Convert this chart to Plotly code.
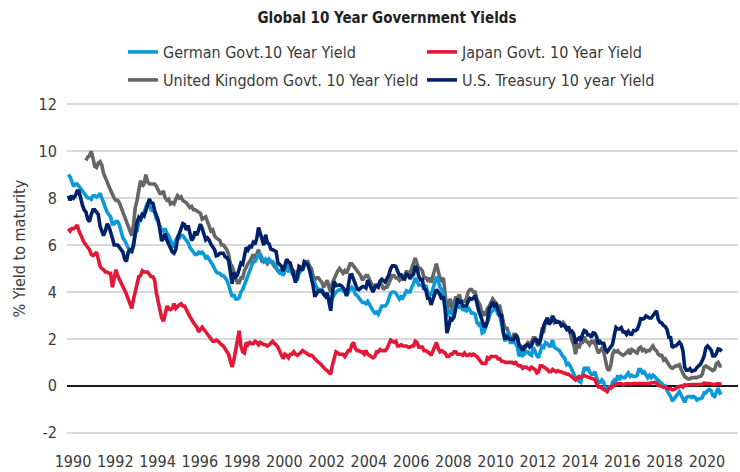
import numpy as np
import plotly.graph_objects as go

# Monthly observations, Jan 1991 .. Dec 2021 (372 months)
# Position of the first observation on the chart's year axis
first_obs_pos = 1989.78

german = [
    9.0, 8.9, 8.7, 8.5, 8.6, 8.6, 8.5, 8.4, 8.3, 8.2, 8.1, 8.0,
    8.0, 7.95, 8.1, 8.1, 8.05, 8.1, 8.2, 8.0, 7.7, 7.5, 7.4, 7.3,
    7.2, 6.9, 6.9, 7.0, 7.0, 6.85, 6.6, 6.3, 6.2, 6.0, 5.9, 5.7,
    5.7, 6.2, 6.5, 6.6, 7.0, 7.05, 7.3, 7.4, 7.6, 7.8, 7.7, 7.5,
    7.45, 7.4, 7.1, 7.0, 6.8, 6.6, 6.6, 6.7, 6.5, 6.4, 6.2, 6.0,
    5.9, 6.2, 6.35, 6.3, 6.4, 6.4, 6.3, 6.2, 6.1, 5.9, 5.8, 5.75,
    5.6, 5.6, 5.7, 5.65, 5.7, 5.6, 5.45, 5.5, 5.4, 5.3, 5.15, 5.0,
    4.85, 4.8, 4.8, 4.7, 4.7, 4.6, 4.5, 4.3, 4.0, 3.8, 3.9, 3.7,
    3.7, 3.75, 4.0, 4.1, 4.3, 4.5, 4.8, 5.0, 5.1, 5.3, 5.3, 5.5,
    5.6, 5.6, 5.4, 5.3, 5.4, 5.3, 5.4, 5.3, 5.3, 5.2, 5.1, 4.9,
    4.8, 4.8, 4.7, 4.9, 5.1, 4.9, 4.95, 4.8, 4.7, 4.6, 4.5, 4.8,
    4.9, 5.0, 5.1, 5.2, 5.15, 5.0, 4.7, 4.5, 4.3, 4.2, 4.1, 4.1,
    4.1, 3.95, 3.85, 3.8, 3.65, 3.6, 3.75, 3.9, 4.0, 4.05, 4.1, 4.1,
    4.05, 4.0, 3.85, 4.0, 4.1, 4.2, 4.1, 3.9, 3.85, 3.75, 3.65, 3.55,
    3.55, 3.5, 3.6, 3.45, 3.3, 3.2, 3.1, 3.15, 3.05, 3.2, 3.4, 3.4,
    3.4, 3.5, 3.7, 3.95, 4.0, 4.0, 3.95, 3.8, 3.7, 3.8, 3.75, 3.9,
    4.05, 4.0, 4.0, 4.2, 4.35, 4.6, 4.4, 4.3, 4.3, 4.3, 4.1, 4.3,
    4.0, 3.95, 3.85, 4.1, 4.4, 4.65, 4.5, 4.2, 4.1, 3.9, 3.5, 2.95,
    3.2, 3.1, 3.05, 3.2, 3.55, 3.45, 3.35, 3.35, 3.25, 3.25, 3.2, 3.35,
    3.25, 3.1, 3.1, 3.05, 2.7, 2.6, 2.7, 2.25, 2.3, 2.5, 2.7, 2.95,
    3.15, 3.2, 3.3, 3.25, 3.05, 3.0, 2.6, 2.2, 1.9, 2.1, 2.3, 1.85,
    1.85, 1.85, 1.8, 1.65, 1.25, 1.55, 1.3, 1.35, 1.45, 1.45, 1.35, 1.3,
    1.65, 1.45, 1.3, 1.2, 1.5, 1.7, 1.65, 1.85, 1.8, 1.7, 1.7, 1.95,
    1.65, 1.6, 1.55, 1.5, 1.35, 1.25, 1.15, 0.9, 0.95, 0.85, 0.7, 0.55,
    0.35, 0.35, 0.2, 0.15, 0.5, 0.8, 0.65, 0.8, 0.6, 0.5, 0.5, 0.6,
    0.35, 0.15, 0.15, 0.25, 0.15, -0.1, -0.12, -0.05, -0.1, 0.15, 0.25, 0.2,
    0.45, 0.25, 0.4, 0.35, 0.35, 0.45, 0.55, 0.4, 0.45, 0.4, 0.4, 0.45,
    0.7, 0.7, 0.55, 0.6, 0.45, 0.35, 0.45, 0.35, 0.45, 0.4, 0.3, 0.25,
    0.15, 0.12, -0.05, 0.0, -0.2, -0.3, -0.45, -0.65, -0.55, -0.4, -0.35, -0.25,
    -0.4, -0.55, -0.7, -0.5, -0.45, -0.45, -0.5, -0.45, -0.5, -0.6, -0.55, -0.55,
    -0.5, -0.3, -0.3, -0.2, -0.15, -0.2, -0.4, -0.45, -0.25, -0.1, -0.3, -0.25,
]

japan = [
    6.7, 6.6, 6.7, 6.7, 6.75, 6.85, 6.6, 6.4, 6.2, 6.1, 6.0, 5.9,
    5.8, 5.6, 5.55, 5.6, 5.7, 5.4, 5.1, 5.0, 4.95, 4.85, 4.85, 4.8,
    4.8, 4.2, 4.5, 4.95, 4.7, 4.55, 4.4, 4.2, 4.1, 3.9, 3.7, 3.5,
    3.3, 3.7, 4.0, 4.3, 4.65, 4.7, 4.9, 4.85, 4.85, 4.85, 4.75, 4.65,
    4.65, 4.5, 3.95, 3.6, 3.1, 2.9, 2.75, 3.1, 3.4, 3.3, 3.25, 3.3,
    3.5, 3.3, 3.4, 3.45, 3.5, 3.4, 3.4, 3.2, 3.1, 2.95, 2.8, 2.7,
    2.6, 2.5, 2.3, 2.4, 2.5, 2.4, 2.3, 2.2, 2.1, 1.95, 1.9, 1.9,
    1.95, 1.9, 1.8, 1.75, 1.7, 1.6, 1.45, 1.35, 1.05, 0.8, 1.1, 1.6,
    2.05, 2.35, 1.7, 1.45, 1.4, 1.85, 1.75, 1.85, 1.8, 1.8, 1.9, 1.85,
    1.75, 1.85, 1.8, 1.75, 1.75, 1.7, 1.75, 1.85, 1.9, 1.8, 1.75, 1.65,
    1.5, 1.3, 1.15, 1.35, 1.3, 1.2, 1.35, 1.35, 1.45, 1.35, 1.3, 1.35,
    1.45, 1.5, 1.45, 1.4, 1.35, 1.3, 1.3, 1.25, 1.15, 1.05, 1.0, 0.95,
    0.85, 0.8, 0.7, 0.65, 0.55, 0.5, 0.9, 1.2, 1.45, 1.4, 1.35, 1.35,
    1.35, 1.25, 1.4, 1.5, 1.5, 1.75, 1.85, 1.6, 1.5, 1.5, 1.45, 1.45,
    1.35, 1.5, 1.35, 1.3, 1.25, 1.2, 1.25, 1.45, 1.45, 1.55, 1.5, 1.5,
    1.5, 1.6, 1.75, 1.95, 1.9, 1.85, 1.9, 1.7, 1.7, 1.75, 1.7, 1.7,
    1.7, 1.65, 1.65, 1.7, 1.7, 1.9, 1.85, 1.65, 1.65, 1.65, 1.5, 1.5,
    1.45, 1.4, 1.3, 1.5, 1.7, 1.85, 1.6, 1.45, 1.5, 1.45, 1.4, 1.25,
    1.25, 1.35, 1.35, 1.45, 1.45, 1.35, 1.35, 1.35, 1.3, 1.4, 1.3, 1.3,
    1.35, 1.3, 1.35, 1.3, 1.25, 1.15, 1.05, 0.95, 0.95, 0.95, 1.2, 1.15,
    1.25, 1.25, 1.25, 1.25, 1.15, 1.15, 1.05, 1.05, 1.0, 1.0, 1.0, 1.0,
    1.0, 0.95, 1.0, 0.9, 0.85, 0.85, 0.75, 0.8, 0.8, 0.75, 0.7, 0.8,
    0.75, 0.7, 0.55, 0.6, 0.85, 0.85, 0.8, 0.75, 0.7, 0.6, 0.6, 0.7,
    0.65, 0.6, 0.65, 0.6, 0.6, 0.55, 0.55, 0.5, 0.5, 0.45, 0.4, 0.32,
    0.25, 0.35, 0.4, 0.35, 0.4, 0.45, 0.4, 0.38, 0.35, 0.3, 0.3, 0.27,
    0.1, -0.05, -0.05, -0.1, -0.12, -0.2, -0.25, -0.1, -0.08, -0.05, 0.05, 0.08,
    0.1, 0.1, 0.1, 0.05, 0.08, 0.1, 0.1, 0.08, 0.1, 0.1, 0.1, 0.1,
    0.1, 0.1, 0.08, 0.08, 0.08, 0.08, 0.1, 0.12, 0.15, 0.15, 0.12, 0.02,
    0.0, -0.03, -0.05, -0.05, -0.08, -0.12, -0.12, -0.17, -0.15, -0.1, -0.05, -0.02,
    0.0, -0.05, 0.05, 0.03, 0.05, 0.05, 0.05, 0.07, 0.05, 0.07, 0.05, 0.05,
    0.07, 0.12, 0.1, 0.1, 0.1, 0.08, 0.07, 0.05, 0.08, 0.1, 0.08, 0.08,
]

uk = [
    None, None, None, None, None, None, None, None, None, None, 9.6, 9.75,
    9.8, 10.0, 9.7, 9.35, 9.3, 9.5, 9.55, 9.4, 9.05, 8.9, 8.7, 8.5,
    8.3, 8.1, 8.0, 7.9, 7.9, 7.8, 7.6, 7.5, 7.2, 7.0, 6.8, 6.6,
    6.4, 6.9, 7.6, 7.9, 8.3, 8.75, 8.5, 8.6, 9.0, 8.7, 8.6, 8.6,
    8.6, 8.6, 8.5, 8.35, 8.2, 8.2, 8.3, 8.0, 7.9, 7.95, 7.75, 7.8,
    7.75, 7.95, 8.1, 8.0, 8.05, 7.9, 7.85, 7.8, 7.7, 7.6, 7.65, 7.5,
    7.5, 7.45, 7.4, 7.35, 7.1, 7.15, 7.2, 7.0, 6.8, 6.6, 6.65, 6.4,
    6.3, 6.25, 6.2, 6.0, 6.0, 5.9, 5.8, 5.6, 5.2, 5.1, 4.8, 4.6,
    4.4, 4.4, 4.6, 4.6, 4.9, 5.1, 5.2, 5.3, 5.5, 5.6, 5.4, 5.6,
    5.8, 5.5, 5.3, 5.3, 5.3, 5.2, 5.3, 5.3, 5.2, 5.15, 5.0, 4.9,
    4.9, 4.9, 4.8, 5.0, 5.2, 5.2, 5.1, 4.9, 4.9, 4.7, 4.8, 5.0,
    5.0, 5.0, 5.3, 5.3, 5.3, 5.1, 5.0, 4.7, 4.5, 4.6, 4.6, 4.5,
    4.4, 4.2, 4.4, 4.5, 4.2, 4.0, 4.4, 4.6, 4.7, 4.9, 5.0, 4.9,
    4.8, 4.9, 4.8, 5.0, 5.2, 5.2, 5.1, 5.0, 4.9, 4.8, 4.7, 4.5,
    4.6, 4.7, 4.7, 4.5, 4.3, 4.2, 4.3, 4.3, 4.3, 4.4, 4.3, 4.1,
    4.2, 4.2, 4.4, 4.6, 4.7, 4.7, 4.6, 4.6, 4.5, 4.6, 4.5, 4.7,
    4.9, 4.8, 4.8, 5.0, 5.2, 5.45, 5.2, 5.0, 5.0, 4.9, 4.6, 4.6,
    4.5, 4.6, 4.4, 4.7, 5.0, 5.2, 4.9, 4.6, 4.5, 4.6, 3.9, 3.1,
    3.6, 3.7, 3.2, 3.6, 3.8, 3.7, 3.9, 3.6, 3.6, 3.6, 3.7, 4.0,
    4.1, 4.1, 4.0, 4.0, 3.7, 3.5, 3.4, 3.0, 3.1, 3.0, 3.3, 3.4,
    3.6, 3.7, 3.6, 3.5, 3.4, 3.4, 3.0, 2.6, 2.4, 2.5, 2.3, 2.0,
    2.0, 2.2, 2.2, 2.1, 1.7, 1.7, 1.55, 1.5, 1.75, 1.85, 1.8, 1.85,
    2.05, 2.05, 1.8, 1.7, 2.0, 2.4, 2.35, 2.75, 2.8, 2.65, 2.8, 3.0,
    2.7, 2.75, 2.75, 2.7, 2.6, 2.7, 2.6, 2.4, 2.4, 2.25, 1.95, 1.75,
    1.35, 1.8, 1.6, 1.85, 1.85, 2.1, 1.9, 1.85, 1.75, 1.9, 1.85, 1.95,
    1.6, 1.4, 1.5, 1.6, 1.45, 1.1, 0.75, 0.65, 0.85, 1.35, 1.5, 1.45,
    1.5, 1.4, 1.35, 1.3, 1.35, 1.45, 1.5, 1.35, 1.55, 1.5, 1.45, 1.4,
    1.6, 1.65, 1.5, 1.55, 1.45, 1.5, 1.5, 1.6, 1.7, 1.55, 1.5, 1.35,
    1.3, 1.3, 1.1, 1.15, 1.0, 0.9, 0.8, 0.75, 0.8, 0.85, 0.85, 0.9,
    0.7, 0.55, 0.4, 0.35, 0.3, 0.3, 0.35, 0.35, 0.35, 0.35, 0.4, 0.4,
    0.5, 0.8, 0.85, 0.8, 0.75, 0.7, 0.65, 0.7, 0.95, 1.0, 0.85, 0.85,
]

us = [
    8.1, 7.9, 8.1, 8.0, 8.1, 8.3, 8.3, 7.9, 7.7, 7.5, 7.4, 7.1,
    7.0, 7.3, 7.5, 7.5, 7.4, 7.3, 6.8, 6.6, 6.4, 6.6, 6.9, 6.8,
    6.6, 6.3, 6.0, 6.0, 6.0, 5.9, 5.8, 5.7, 5.4, 5.3, 5.7, 5.8,
    5.75, 5.97, 6.48, 6.97, 7.18, 7.10, 7.30, 7.24, 7.46, 7.74, 7.96, 7.81,
    7.78, 7.47, 7.20, 7.06, 6.63, 6.17, 6.28, 6.49, 6.20, 6.04, 5.93, 5.71,
    5.65, 5.81, 6.27, 6.51, 6.74, 6.91, 6.87, 6.64, 6.83, 6.53, 6.20, 6.30,
    6.58, 6.42, 6.69, 6.89, 6.71, 6.49, 6.22, 6.30, 6.21, 6.03, 5.88, 5.81,
    5.54, 5.57, 5.65, 5.64, 5.65, 5.50, 5.46, 5.34, 4.81, 4.35, 4.83, 4.65,
    4.72, 5.00, 5.23, 5.18, 5.54, 5.90, 5.79, 5.94, 5.92, 6.11, 6.03, 6.28,
    6.75, 6.52, 6.26, 5.99, 6.44, 6.10, 6.05, 5.83, 5.80, 5.74, 5.72, 5.24,
    5.16, 5.10, 4.89, 5.14, 5.39, 5.28, 5.24, 4.97, 4.73, 4.40, 4.65, 5.09,
    5.04, 4.91, 5.28, 5.21, 5.16, 4.93, 4.65, 4.26, 3.80, 3.94, 4.05, 4.03,
    4.05, 3.90, 3.81, 3.96, 3.57, 3.20, 3.98, 4.45, 4.27, 4.29, 4.30, 4.27,
    4.15, 4.08, 3.83, 4.35, 4.72, 4.73, 4.50, 4.28, 4.13, 4.10, 4.19, 4.23,
    4.22, 4.17, 4.50, 4.34, 4.14, 4.00, 4.18, 4.26, 4.20, 4.46, 4.54, 4.47,
    4.42, 4.57, 4.72, 4.99, 5.11, 5.11, 5.09, 4.88, 4.72, 4.73, 4.60, 4.56,
    4.76, 4.72, 4.56, 4.69, 4.75, 5.10, 5.00, 4.67, 4.52, 4.53, 4.15, 4.10,
    3.74, 3.74, 3.45, 3.68, 3.88, 4.10, 4.01, 3.89, 3.69, 3.81, 3.23, 2.25,
    2.52, 2.87, 2.82, 2.93, 3.29, 3.72, 3.56, 3.59, 3.40, 3.39, 3.40, 3.59,
    3.73, 3.69, 3.73, 3.85, 3.42, 3.20, 3.01, 2.70, 2.55, 2.54, 2.76, 3.29,
    3.39, 3.58, 3.41, 3.46, 3.17, 3.00, 3.00, 2.30, 1.98, 2.15, 2.01, 1.98,
    1.97, 1.97, 2.17, 2.05, 1.70, 1.62, 1.50, 1.68, 1.72, 1.75, 1.65, 1.72,
    1.91, 1.98, 1.96, 1.76, 1.93, 2.30, 2.58, 2.74, 2.90, 2.62, 2.72, 2.95,
    2.86, 2.71, 2.72, 2.71, 2.56, 2.60, 2.54, 2.42, 2.53, 2.30, 2.33, 2.21,
    1.80, 1.98, 2.04, 1.94, 2.20, 2.36, 2.32, 2.17, 2.17, 2.07, 2.26, 2.24,
    2.09, 1.78, 1.89, 1.81, 1.81, 1.55, 1.45, 1.56, 1.63, 1.76, 2.14, 2.49,
    2.43, 2.42, 2.48, 2.30, 2.30, 2.19, 2.32, 2.21, 2.20, 2.36, 2.35, 2.40,
    2.58, 2.86, 2.84, 2.87, 2.98, 2.91, 2.89, 2.89, 3.00, 3.15, 3.20, 2.83,
    2.71, 2.68, 2.57, 2.53, 2.40, 2.07, 2.06, 1.63, 1.70, 1.71, 1.81, 1.86,
    1.76, 1.50, 0.80, 0.66, 0.67, 0.73, 0.62, 0.65, 0.68, 0.79, 0.87, 0.93,
    1.08, 1.26, 1.61, 1.70, 1.62, 1.52, 1.28, 1.28, 1.37, 1.58, 1.56, 1.47,
]

year_ticks = list(range(1990, 2021, 2))
y_ticks = [-2, 0, 2, 4, 6, 8, 10, 12]
y_tick_labels = ["-2", "0", "2", "4", "6", "8", "10", "12"]

n = len(us)
x = first_obs_pos + np.arange(n) / 12.0

FONT = "DejaVu Sans Condensed, Liberation Sans Narrow, sans-serif"
TXT = "#3a3a3a"

# (name, values, colour, drawing order, legend row)
series = [
    ("German Govt.10 Year Yield", german, "#0a9ad9", 2, "legend"),
    ("Japan Govt. 10 Year Yield", japan, "#e31837", 3, "legend"),
    ("United Kingdom Govt. 10 Year Yield", uk, "#666666", 1, "legend2"),
    ("U.S. Treasury 10 year Yield", us, "#012169", 4, "legend2"),
]
legend_rank = {s[0]: i for i, s in enumerate(series)}

fig = go.Figure()
for name, vals, color, draw, leg in sorted(series, key=lambda s: s[3]):
    fig.add_trace(go.Scatter(
        x=x, y=vals, name=name, mode="lines",
        line=dict(color=color, width=3.6),
        legend=leg, legendrank=legend_rank[name], connectgaps=False,
    ))

PLOT_TOP, PLOT_BOT = 103, 434
def ypaper(py):
    return (PLOT_BOT - py) / (PLOT_BOT - PLOT_TOP)

leg_common = dict(orientation="h", xref="paper", yref="paper",
                  x=(123 - 67) / 671, xanchor="left", yanchor="middle",
                  entrywidth=254, entrywidthmode="pixels",
                  font=dict(family=FONT, size=16, color=TXT),
                  traceorder="normal", bgcolor="rgba(0,0,0,0)")

fig.update_layout(
    width=740, height=472,
    margin=dict(l=67, r=2, t=PLOT_TOP, b=472 - PLOT_BOT),
    paper_bgcolor="white", plot_bgcolor="white",
    font=dict(family=FONT, size=16, color=TXT),
    title=dict(text="<b>Global 10 Year Government Yields</b>",
               x=387 / 740, xanchor="center", xref="container",
               y=1 - 18 / 472, yanchor="middle", yref="container",
               font=dict(family=FONT, size=15, color="#222222")),
    legend=dict(leg_common, y=ypaper(52)),
    legend2=dict(leg_common, y=ypaper(80)),
    showlegend=True,
    annotations=[dict(
        text="% Yield to maturity", textangle=-90,
        xref="paper", yref="paper", x=(18.5 - 67) / 671, y=ypaper(249),
        xanchor="center", yanchor="middle", showarrow=False,
        font=dict(family=FONT, size=16, color=TXT))],
)

fig.update_xaxes(
    range=[1989.716, 2021.47], tickmode="array", tickvals=year_ticks,
    ticktext=[str(t) for t in year_ticks], tickangle=0, automargin=False,
    showgrid=False, zeroline=False, showline=False,
    ticks="outside", ticklen=13, tickcolor="rgba(0,0,0,0)",
    tickfont=dict(family=FONT, size=16, color=TXT),
)
fig.update_yaxes(
    range=[-2.05, 12.05], tickmode="array", tickvals=y_ticks,
    ticktext=y_tick_labels, automargin=False,
    showgrid=True, gridcolor="#d9d9d9", gridwidth=2,
    zeroline=True, zerolinecolor="#1a1a1a", zerolinewidth=2,
    showline=False, ticks="outside", ticklen=6, tickcolor="rgba(0,0,0,0)",
    tickfont=dict(family=FONT, size=16, color=TXT),
)

fig.write_html("out.html",
               config={"displayModeBar": False},
               post_script="document.body.style.margin='0';")
